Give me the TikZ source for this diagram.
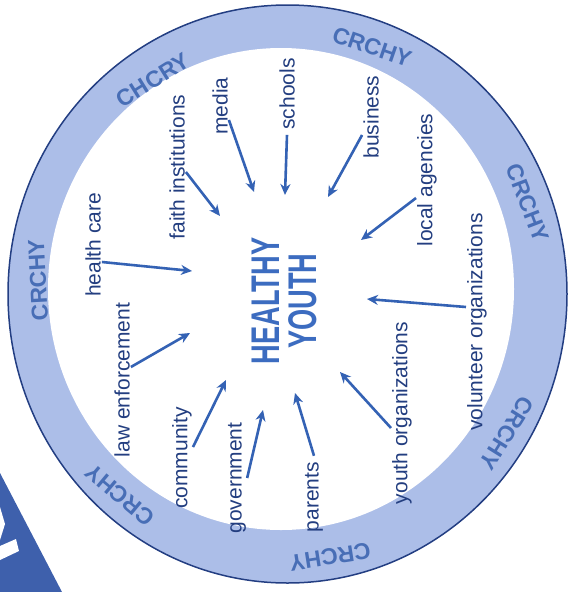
\documentclass[tikz,border=0pt]{standalone}
\usepackage{fontspec}
\setmainfont{Liberation Sans}
\usepackage{xcolor}
\usetikzlibrary{positioning, arrows.meta}

\definecolor{ringblue}{RGB}{172,190,232}
\definecolor{rimblue}{RGB}{35,62,130}
\definecolor{textblue}{RGB}{35,62,128}
\definecolor{arrowblue}{RGB}{52,98,180}
\definecolor{tagblue}{RGB}{72,110,182}
\definecolor{coreblue}{RGB}{60,108,192}
\definecolor{cornerblue}{RGB}{62,96,172}

\begin{document}
\begin{tikzpicture}[
x=1pt, y=-1pt,
agent/.style={rotate=90, inner sep=1pt, text=textblue, font=\fontsize{21}{24}\selectfont},
tag/.style={inner sep=0pt, text=tagblue, font=\fontsize{23}{26}\selectfont\bfseries},
arrow/.style={-{Stealth[length=11pt, width=10pt]}, line width=2.6pt, draw=arrowblue}
]

\useasboundingbox (0,0) rectangle (571,592);

% corner of the next panel
\fill[cornerblue] (0,473) -- (62,592) -- (0,592) -- cycle;
\fill[white] (0,546) -- (16,539) -- (19,551) -- (0,560) -- cycle;
\fill[white] (0,507) -- (5,524) -- (0,540) -- cycle;

% the ring
\filldraw[fill=ringblue, draw=rimblue, line width=1.5pt] (287.5,294) ellipse [x radius=279.5, y radius=289];
\fill[white] (281,289) ellipse [x radius=233, y radius=241];

\node[tag, rotate=93] (tag_w) at (38,280) {CRCHY};
\node[tag, rotate=32] (tag_nw) at (153,80) {CHCRY};
\node[tag, rotate=-19] (tag_n) at (372,47) {CRCHY};
\node[tag, rotate=-69] (tag_ne) at (528,203) {CRCHY};
\node[tag, rotate=-122] (tag_se) at (507,433) {CRCHY};
\node[tag, rotate=-171] (tag_s) at (330,557) {CRCHY};
\node[tag, rotate=140] (tag_sw) at (120,495) {CRCHY};

% centre
\node[rotate=90, inner sep=0pt, align=center, text=coreblue, font=\fontsize{40}{37}\selectfont\bfseries] (core) at (284,301)
  {\scalebox{0.68}[1]{HEALTHY}\\\scalebox{0.68}[1]{YOUTH}};

% who is around
\node[agent] (ag_health) at (93,245) {health care};
\node[agent] (ag_faith) at (177,167) {faith institutions};
\node[agent] (ag_media) at (220,106) {media};
\node[agent] (ag_schools) at (287,94) {schools};
\node[agent] (ag_business) at (371,117) {business};
\node[agent] (ag_local) at (427,180) {local agencies};
\node[agent] (ag_volunteer) at (477,322) {volunteer organizations};
\node[agent] (ag_youth) at (402,413) {youth organizations};
\node[agent] (ag_parents) at (314,497) {parents};
\node[agent] (ag_gov) at (237,478) {government};
\node[agent] (ag_community) at (182,458) {community};
\node[agent] (ag_law) at (122,380) {law enforcement};

\coordinate (tip_health) at (192,271);
\coordinate (tip_faith) at (220,216);
\coordinate (tip_media) at (254,192);
\coordinate (tip_schools) at (285,195);
\coordinate (tip_business) at (328,197);
\coordinate (tip_local) at (361,240);
\coordinate (tip_volunteer) at (367,299);
\coordinate (tip_youth) at (340,372);
\coordinate (tip_parents) at (295,393);
\coordinate (tip_gov) at (263,410);
\coordinate (tip_community) at (226,380);
\coordinate (tip_law) at (190,333);

\draw[arrow] ([yshift=-17pt]ag_health.south) -- (tip_health);
\draw[arrow] ([yshift=-5pt]ag_faith.south) -- (tip_faith);
\draw[arrow] ([yshift=-14pt]ag_media.south) -- (tip_media);
\draw[arrow] ([yshift=-4pt]ag_schools.west) -- (tip_schools);
\draw[arrow] ([yshift=-18pt]ag_business.north) -- (tip_business);
\draw[arrow] ([yshift=-18pt]ag_local.north) -- (tip_local);
\draw[arrow] ([yshift=15pt]ag_volunteer.north) -- (tip_volunteer);
\draw[arrow] ([yshift=-15pt]ag_youth.north) -- (tip_youth);
\draw[arrow] ([yshift=5pt]ag_parents.east) -- (tip_parents);
\draw[arrow] (ag_gov.south) -- (tip_gov);
\draw[arrow] ([yshift=11pt]ag_community.south) -- (tip_community);
\draw[arrow] ([yshift=13pt]ag_law.south) -- (tip_law);

\end{tikzpicture}
\end{document}
